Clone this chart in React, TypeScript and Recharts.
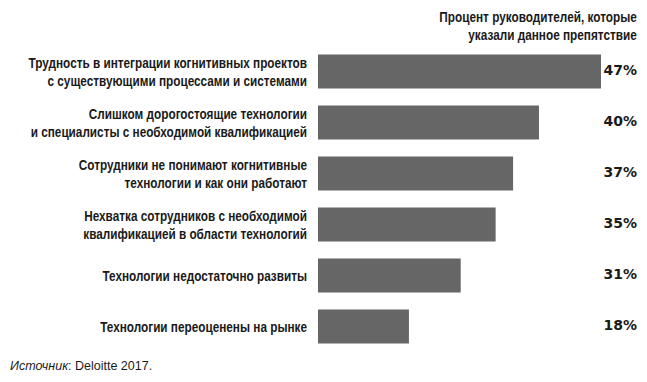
import React from 'react';
import { BarChart, Bar, XAxis, YAxis, LabelList } from 'recharts';

// Препятствия (подписи по строкам, как в оригинале)
const obstacles = [
  'Трудность в интеграции когнитивных проектов\nс существующими процессами и системами',
  'Слишком дорогостоящие технологии\nи специалисты с необходимой квалификацией',
  'Сотрудники не понимают когнитивные\nтехнологии и как они работают',
  'Нехватка сотрудников с необходимой\nквалификацией в области технологий',
  'Технологии недостаточно развиты',
  'Технологии переоценены на рынке',
];

// Подписанные значения, %
const shares = [47, 40, 37, 35, 31, 18];

// Длины столбцов так, как они нарисованы в оригинале (в тех же %)
const barShares = [47, 36.7, 32.4, 29.5, 23.7, 15.1];

const data = obstacles.map((name, i) => ({ name, bar: barShares[i], share: shares[i] }));

const W = 647;
const H = 382;
// узкий гротеск имитируем сжатием Liberation Sans
const FONT = '"Liberation Sans", Arial, sans-serif';
const SX = 0.76;
const TEXT = '#1a1a1a';

const CategoryTick = (props: any) => {
  const { x, y, payload } = props;
  const lines = String(payload.value).split('\n');
  const first = lines.length === 1 ? 5 : -3.5;
  return (
    <text
      transform={`translate(${x},${y}) scale(${SX},1)`}
      x={0}
      y={0}
      textAnchor="end"
      fontFamily={FONT}
      fontWeight="bold"
      fontSize={15.5}
      fill={TEXT}
    >
      {lines.map((line, i) => (
        <tspan key={i} x={0} dy={i === 0 ? first : 18}>{line}</tspan>
      ))}
    </text>
  );
};

const ShareLabel = (props: any) => {
  const { y, height, index } = props;
  return (
    <text
      x={637}
      y={y + height / 2 + 3.5}
      textAnchor="end"
      fontFamily='"DejaVu Sans", sans-serif'
      fontWeight="bold"
      fontSize={14}
      fill={TEXT}
    >
      {shares[index]}%
    </text>
  );
};

export default function App() {
  return (
    <div style={{ position: 'absolute', left: 0, top: 0, width: W, height: H, background: '#fff' }}>
      <div
        style={{
          position: 'absolute',
          right: 10,
          top: 8,
          textAlign: 'right',
          whiteSpace: 'nowrap',
          transform: `scaleX(${SX})`,
          transformOrigin: 'right top',
          fontFamily: FONT,
          fontWeight: 'bold',
          fontSize: 15.5,
          lineHeight: '18px',
          color: TEXT,
        }}
      >
        Процент руководителей, которые
        <br />
        указали данное препятствие
      </div>
      <BarChart
        width={W}
        height={H}
        data={data}
        layout="vertical"
        margin={{ top: 46, right: 46, bottom: 30, left: 0 }}
        barCategoryGap="16.7%"
      >
        <XAxis type="number" domain={[0, 47]} hide />
        <YAxis
          type="category"
          dataKey="name"
          width={318}
          axisLine={false}
          tickLine={false}
          tickSize={0}
          tickMargin={11}
          interval={0}
          tick={<CategoryTick />}
        />
        <Bar dataKey="bar" fill="#666666" isAnimationActive={false}>
          <LabelList dataKey="share" content={<ShareLabel />} />
        </Bar>
      </BarChart>
      <div
        style={{
          position: 'absolute',
          left: 10,
          top: 359,
          fontFamily: FONT,
          fontSize: 12.5,
          color: TEXT,
        }}
      >
        <i>Источник</i>: Deloitte 2017.
      </div>
    </div>
  );
}
